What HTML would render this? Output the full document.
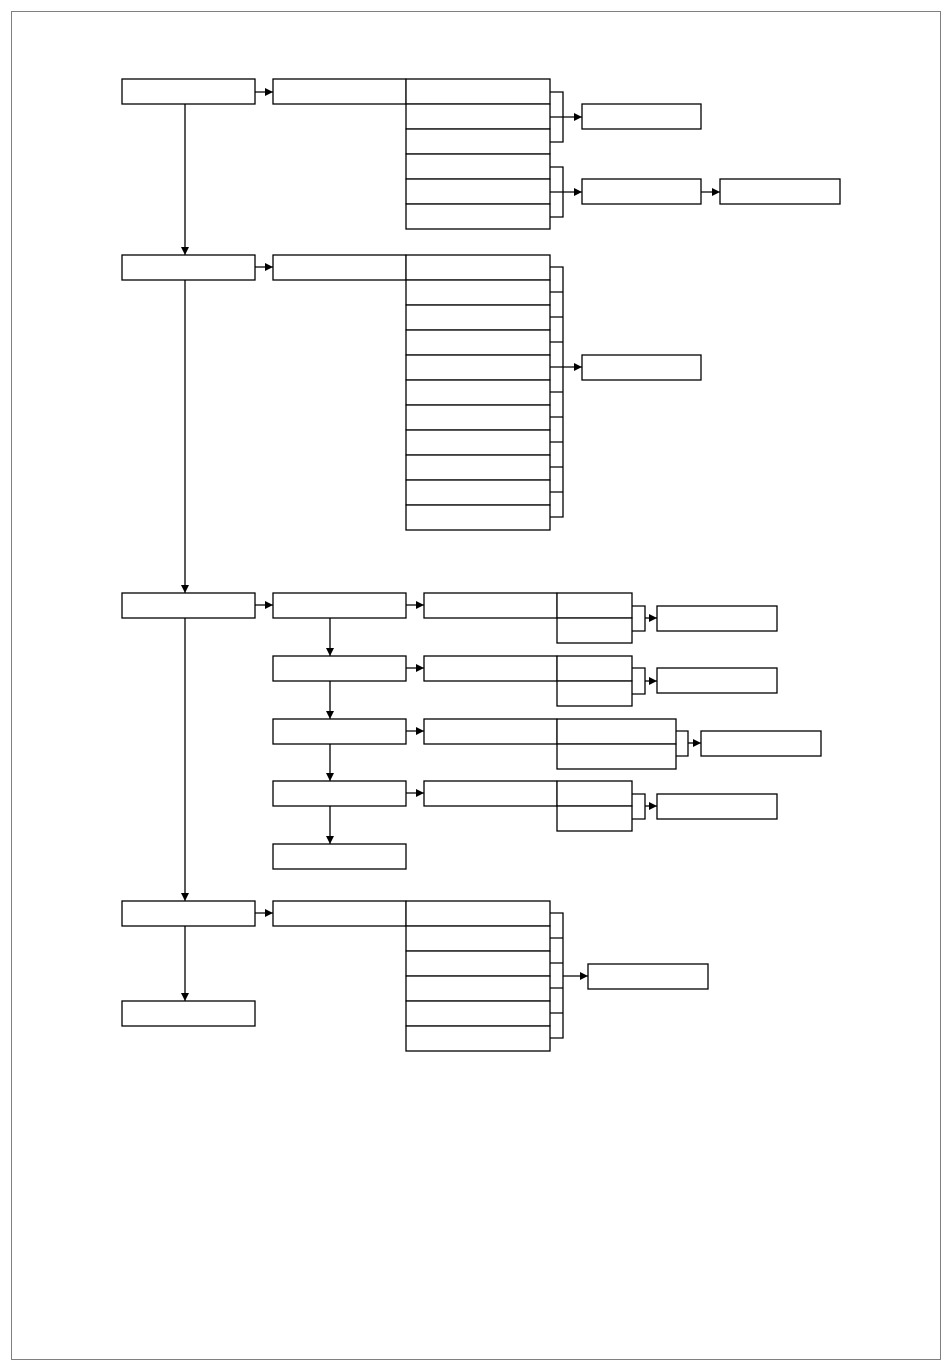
<!DOCTYPE html>
<html><head><style>body{margin:0;background:#fff}svg{display:block}</style></head><body>
<svg width="950" height="1370" viewBox="0 0 950 1370" xmlns="http://www.w3.org/2000/svg">
<defs><marker id="a" markerWidth="8" markerHeight="8" refX="8" refY="4" orient="auto" markerUnits="userSpaceOnUse"><path d="M0,0 L8,4 L0,8 z" fill="#000"/></marker></defs>
<rect x="11.5" y="11.5" width="929" height="1348" fill="none" stroke="#808080"/>
<g fill="#fff" stroke="#000" stroke-width="1.3">
<!-- column A -->
<rect x="122" y="79" width="133" height="25"/>
<rect x="122" y="255" width="133" height="25"/>
<rect x="122" y="593" width="133" height="25"/>
<rect x="122" y="901" width="133" height="25"/>
<rect x="122" y="1001" width="133" height="25"/>
<!-- column B -->
<rect x="273" y="79" width="133" height="25"/>
<rect x="273" y="255" width="133" height="25"/>
<rect x="273" y="901" width="133" height="25"/>
<rect x="273" y="593" width="133" height="25"/>
<rect x="273" y="656" width="133" height="25"/>
<rect x="273" y="719" width="133" height="25"/>
<rect x="273" y="781" width="133" height="25"/>
<rect x="273" y="844" width="133" height="25"/>
<!-- section 1 list -->
<rect x="406" y="79" width="144" height="25"/><rect x="406" y="104" width="144" height="25"/><rect x="406" y="129" width="144" height="25"/>
<rect x="406" y="154" width="144" height="25"/><rect x="406" y="179" width="144" height="25"/><rect x="406" y="204" width="144" height="25"/>
<rect x="582" y="104" width="119" height="25"/>
<rect x="582" y="179" width="119" height="25"/>
<rect x="720" y="179" width="120" height="25"/>
<!-- section 2 list -->
<rect x="406" y="255" width="144" height="25"/><rect x="406" y="280" width="144" height="25"/><rect x="406" y="305" width="144" height="25"/>
<rect x="406" y="330" width="144" height="25"/><rect x="406" y="355" width="144" height="25"/><rect x="406" y="380" width="144" height="25"/>
<rect x="406" y="405" width="144" height="25"/><rect x="406" y="430" width="144" height="25"/><rect x="406" y="455" width="144" height="25"/>
<rect x="406" y="480" width="144" height="25"/><rect x="406" y="505" width="144" height="25"/>
<rect x="582" y="355" width="119" height="25"/>
<!-- section 3 -->
<rect x="424" y="593" width="133" height="25"/><rect x="557" y="593" width="75" height="25"/><rect x="557" y="618" width="75" height="25"/>
<rect x="657" y="606" width="120" height="25"/>
<rect x="424" y="656" width="133" height="25"/><rect x="557" y="656" width="75" height="25"/><rect x="557" y="681" width="75" height="25"/>
<rect x="657" y="668" width="120" height="25"/>
<rect x="424" y="719" width="133" height="25"/><rect x="557" y="719" width="119" height="25"/><rect x="557" y="744" width="119" height="25"/>
<rect x="701" y="731" width="120" height="25"/>
<rect x="424" y="781" width="133" height="25"/><rect x="557" y="781" width="75" height="25"/><rect x="557" y="806" width="75" height="25"/>
<rect x="657" y="794" width="120" height="25"/>
<!-- section 4 -->
<rect x="406" y="901" width="144" height="25"/><rect x="406" y="926" width="144" height="25"/><rect x="406" y="951" width="144" height="25"/>
<rect x="406" y="976" width="144" height="25"/><rect x="406" y="1001" width="144" height="25"/><rect x="406" y="1026" width="144" height="25"/>
<rect x="588" y="964" width="120" height="25"/>
</g>
<g fill="none" stroke="#000" stroke-width="1.3">
<!-- main verticals -->
<path d="M185,104V255" marker-end="url(#a)"/>
<path d="M185,280V593" marker-end="url(#a)"/>
<path d="M185,618V901" marker-end="url(#a)"/>
<path d="M185,926V1001" marker-end="url(#a)"/>
<path d="M255,92H273" marker-end="url(#a)"/>
<path d="M255,267H273" marker-end="url(#a)"/>
<path d="M255,605H273" marker-end="url(#a)"/>
<path d="M255,913H273" marker-end="url(#a)"/>
<!-- section1 brackets -->
<path d="M550,92H563V142H550M550,117H563"/>
<path d="M563,117H582" marker-end="url(#a)"/>
<path d="M550,167H563V217H550M550,192H563"/>
<path d="M563,192H582" marker-end="url(#a)"/>
<path d="M701,192H720" marker-end="url(#a)"/>
<!-- section2 bracket -->
<path d="M550,267H563V517H550M550,292H563M550,317H563M550,342H563M550,367H563M550,392H563M550,417H563M550,442H563M550,467H563M550,492H563"/>
<path d="M563,367H582" marker-end="url(#a)"/>
<!-- section3 -->
<path d="M330,618V656" marker-end="url(#a)"/>
<path d="M330,681V719" marker-end="url(#a)"/>
<path d="M330,744V781" marker-end="url(#a)"/>
<path d="M330,806V844" marker-end="url(#a)"/>
<path d="M406,605H424" marker-end="url(#a)"/>
<path d="M406,668H424" marker-end="url(#a)"/>
<path d="M406,731H424" marker-end="url(#a)"/>
<path d="M406,793H424" marker-end="url(#a)"/>
<path d="M632,606H645V631H632"/><path d="M645,618H657" marker-end="url(#a)"/>
<path d="M632,668H645V694H632"/><path d="M645,681H657" marker-end="url(#a)"/>
<path d="M676,731H688V756H676"/><path d="M688,743H701" marker-end="url(#a)"/>
<path d="M632,794H645V819H632"/><path d="M645,806H657" marker-end="url(#a)"/>
<!-- section4 bracket -->
<path d="M550,913H563V1038H550M550,938H563M550,963H563M550,988H563M550,1013H563"/>
<path d="M563,976H588" marker-end="url(#a)"/>
</g>
</svg>
</body></html>
